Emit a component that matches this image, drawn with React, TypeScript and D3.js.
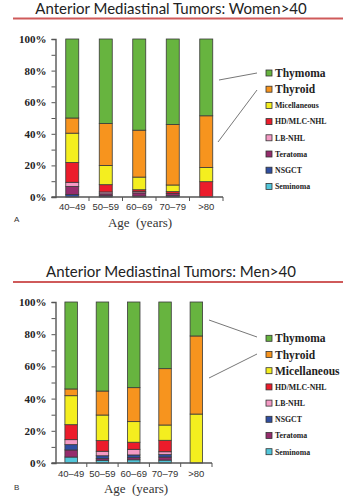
import { useRef, useEffect } from 'react';
import * as d3 from 'd3';

const ages = ['40–49', '50–59', '60–69', '70–79', '>80'];

// Women > 40, percent of cases per age group
const womenThymoma = [50.0, 53.5, 57.7, 54.1, 48.6];
const womenThyroid = [9.6, 26.5, 29.7, 38.3, 32.7];
const womenMisc = [18.5, 12.2, 8.0, 4.2, 9.0];
const womenHD = [12.6, 4.6, 1.2, 1.1, 9.7];
const womenLB = [2.6, 1.2, 0.8, 0, 0];
const womenTeratoma = [5.2, 1.2, 2.0, 1.5, 0];
const womenNSGCT = [1.5, 0.8, 0.6, 0.8, 0];
const womenSeminoma = [0, 0, 0, 0, 0];

// Men > 40
const menThymoma = [54.0, 55.3, 53.2, 41.4, 21.1];
const menThyroid = [4.2, 14.9, 21.1, 35.0, 48.5];
const menMisc = [18.0, 15.9, 12.8, 9.5, 30.4];
const menHD = [9.3, 6.6, 4.4, 7.1, 0];
const menLB = [3.1, 2.8, 3.5, 1.8, 0];
const menNSGCT = [3.3, 1.8, 1.7, 1.5, 0];
const menTeratoma = [4.4, 1.0, 1.3, 1.9, 0];
const menSeminoma = [3.7, 1.7, 2.0, 1.8, 0];

const yTicks = [0, 10, 20, 30, 40, 50, 60, 70, 80, 90, 100];

const colors: Record<string, string> = {
  Thymoma: '#67b43f',
  Thyroid: '#f7941e',
  Micellaneous: '#f4ee1f',
  'HD/MLC-NHL': '#ec1c2b',
  'LB-NHL': '#f49ac4',
  Teratoma: '#952c6c',
  NSGCT: '#2f4ea1',
  Seminoma: '#52c6da',
};

const womenKeys = ['Seminoma', 'NSGCT', 'Teratoma', 'LB-NHL', 'HD/MLC-NHL', 'Micellaneous', 'Thyroid', 'Thymoma'];
const menKeys = ['Seminoma', 'Teratoma', 'NSGCT', 'LB-NHL', 'HD/MLC-NHL', 'Micellaneous', 'Thyroid', 'Thymoma'];

function rows(keys: string[], series: Record<string, number[]>) {
  return ages.map((age, i) => {
    const r: any = { age };
    keys.forEach((k) => (r[k] = series[k][i]));
    return r;
  });
}

const panels = [
  {
    title: 'Anterior Mediastinal Tumors: Women>40',
    letter: 'A',
    keys: womenKeys,
    big: 2,
    data: rows(womenKeys, {
      Thymoma: womenThymoma, Thyroid: womenThyroid, Micellaneous: womenMisc, 'HD/MLC-NHL': womenHD,
      'LB-NHL': womenLB, Teratoma: womenTeratoma, NSGCT: womenNSGCT, Seminoma: womenSeminoma,
    }),
    titleY: 14, ruleY: 18.5, y0: 197, y1: 39, x0: 55.5, x1: 223, barW: 13,
    labelY: 210, axisTitleY: 227, axisTitleX: 140, letterY: 222,
    legendY: 73, connectors: [[219, 80, 257, 73], [218, 142, 257, 90]],
  },
  {
    title: 'Anterior Mediastinal Tumors: Men>40',
    letter: 'B',
    keys: menKeys,
    big: 3,
    data: rows(menKeys, {
      Thymoma: menThymoma, Thyroid: menThyroid, Micellaneous: menMisc, 'HD/MLC-NHL': menHD,
      'LB-NHL': menLB, Teratoma: menTeratoma, NSGCT: menNSGCT, Seminoma: menSeminoma,
    }),
    titleY: 277, ruleY: 282, y0: 463, y1: 302, x0: 55.5, x1: 212, barW: 12.5,
    labelY: 477, axisTitleY: 493, axisTitleX: 136, letterY: 490,
    legendY: 338.3, connectors: [[209, 320, 257, 337], [209, 378, 257, 354]],
  },
];

export default function App() {
  const svgRef = useRef<SVGSVGElement>(null);

  useEffect(() => {
    if (!svgRef.current) return;
    const svg = d3.select(svgRef.current);
    svg.selectAll('*').remove();

    panels.forEach((p) => {
      const g = svg.append('g');

      // title + red rule
      g.append('text')
        .attr('x', 171).attr('y', p.titleY)
        .attr('text-anchor', 'middle')
        .attr('font-family', 'Lato, "Open Sans", sans-serif')
        .attr('font-size', 15)
        .attr('fill', '#222')
        .text(p.title);
      g.append('line')
        .attr('x1', 13).attr('x2', 343).attr('y1', p.ruleY).attr('y2', p.ruleY)
        .attr('stroke', '#cf5a5a').attr('stroke-width', 1.8);

      const x = d3.scaleBand().domain(ages).range([p.x0, p.x1]);
      const y = d3.scaleLinear().domain([0, 100]).range([p.y0, p.y1]);

      const stacked = d3.stack<any>().keys(p.keys)(p.data);

      // bars
      g.append('g')
        .selectAll('g')
        .data(stacked)
        .join('g')
        .attr('fill', (s) => colors[s.key])
        .selectAll('rect')
        .data((s) => s.filter((d) => d[1] - d[0] > 0))
        .join('rect')
        .attr('x', (d) => x(d.data.age)! + x.bandwidth() / 2 - p.barW / 2)
        .attr('width', p.barW)
        .attr('y', (d) => y(d[1]))
        .attr('height', (d) => y(d[0]) - y(d[1]))
        .attr('stroke', '#3a3a3a')
        .attr('stroke-width', 0.8);

      // y axis
      const yAxis = g.append('g')
        .attr('transform', `translate(${p.x0},0)`)
        .call(
          d3.axisLeft(y)
            .tickValues(yTicks)
            .tickSize(4)
            .tickPadding(5)
            .tickFormat((d) => ((d as number) % 20 === 0 ? `${d}%` : ''))
        );
      yAxis.select('.domain').attr('stroke', '#555').attr('stroke-width', 1.4);
      yAxis.selectAll('.tick line').attr('stroke', '#555');
      yAxis.selectAll('text')
        .attr('font-family', '"Liberation Serif", serif')
        .attr('font-weight', 'bold')
        .attr('font-size', 11)
        .attr('fill', '#222');

      // x axis: baseline with ticks on the band edges
      const edges = ages.map((a) => x(a)!).concat([p.x1]);
      g.append('line')
        .attr('x1', p.x0 - 4).attr('x2', p.x1).attr('y1', p.y0).attr('y2', p.y0)
        .attr('stroke', '#555').attr('stroke-width', 1.4);
      g.append('g')
        .selectAll('line')
        .data(edges.slice(1))
        .join('line')
        .attr('x1', (d) => d).attr('x2', (d) => d)
        .attr('y1', p.y0).attr('y2', p.y0 + 4)
        .attr('stroke', '#555');
      g.append('g')
        .selectAll('text')
        .data(ages)
        .join('text')
        .attr('x', (d) => x(d)! + x.bandwidth() / 2)
        .attr('y', p.labelY)
        .attr('text-anchor', 'middle')
        .attr('font-family', '"Liberation Sans", Arial, sans-serif')
        .attr('font-size', 9.5)
        .attr('fill', '#333')
        .text((d) => d);

      g.append('text')
        .attr('x', p.axisTitleX).attr('y', p.axisTitleY)
        .attr('text-anchor', 'middle')
        .attr('font-family', '"Liberation Serif", serif')
        .attr('font-size', 13)
        .attr('fill', '#333')
        .attr('xml:space', 'preserve')
        .text('Age  (years)');

      g.append('text')
        .attr('x', 14).attr('y', p.letterY)
        .attr('font-family', '"Liberation Sans", Arial, sans-serif')
        .attr('font-size', 8)
        .attr('fill', '#333')
        .text(p.letter);

      // connector lines
      g.append('g')
        .selectAll('line')
        .data(p.connectors)
        .join('line')
        .attr('x1', (d) => d[0]).attr('y1', (d) => d[1])
        .attr('x2', (d) => d[2]).attr('y2', (d) => d[3])
        .attr('stroke', '#777').attr('stroke-width', 1);

      // legend, top-down = reverse of stack
      const legendKeys = [...p.keys].reverse();
      const lg = g.append('g')
        .selectAll('g')
        .data(legendKeys)
        .join('g')
        .attr('transform', (_, i) => `translate(266,${p.legendY + i * 16.2})`);
      lg.append('rect')
        .attr('x', 0).attr('y', -3).attr('width', 6).attr('height', 6)
        .attr('fill', (d) => colors[d])
        .attr('stroke', '#333').attr('stroke-width', 0.8);
      lg.append('text')
        .attr('x', 9)
        .attr('y', (_, i) => (i < p.big ? 4 : 2.8))
        .attr('font-family', '"Liberation Serif", serif')
        .attr('font-weight', 'bold')
        .attr('font-size', (_, i) => (i < p.big ? 11.5 : 7.8))
        .attr('fill', '#222')
        .text((d) => d);
    });
  }, []);

  return (
    <svg
      ref={svgRef}
      width={350}
      height={500}
      style={{ position: 'absolute', left: 0, top: 0, background: '#fff' }}
    />
  );
}
